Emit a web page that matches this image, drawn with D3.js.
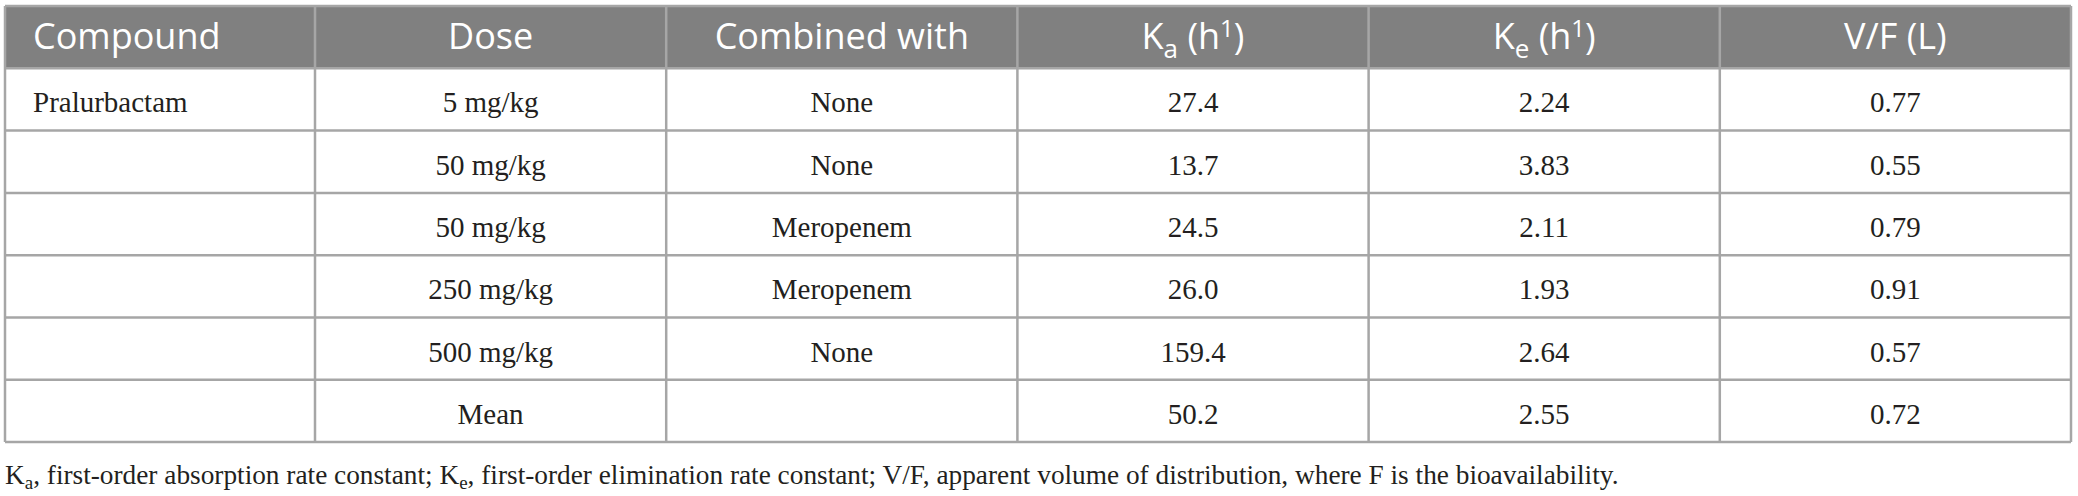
<!DOCTYPE html>
<html>
<head>
<meta charset="utf-8">
<script src="https://cdn.jsdelivr.net/npm/d3@7"></script>
<style>
  body { margin: 0; background: #fff; }
  svg { display: block; }
</style>
</head>
<body>
<svg id="tbl" width="2078" height="496"></svg>
<script>
// table content
var headers = ["Compound", "Dose", "Combined with", "Ka", "Ke", "V/F (L)"];
var compounds = ["Pralurbactam", "", "", "", "", ""];
var doses = ["5 mg/kg", "50 mg/kg", "50 mg/kg", "250 mg/kg", "500 mg/kg", "Mean"];
var combinedWith = ["None", "None", "Meropenem", "Meropenem", "None", ""];
var ka = [27.4, 13.7, 24.5, 26.0, 159.4, 50.2];
var ke = [2.24, 3.83, 2.11, 1.93, 2.64, 2.55];
var vf = [0.77, 0.55, 0.79, 0.91, 0.57, 0.72];

var svg = d3.select("#tbl");

var tLeft = 5, tRight = 2071, tTop = 6, rowH = 62.3;
var firstW = 310;
var gridColor = "#a6a6a6";
var serif = "'Liberation Serif', 'Times New Roman', serif";
var sans = "'Open Sans', 'Noto Sans', sans-serif";

// column edges: first column narrower, the rest equal
var colX = d3.scaleLinear().domain([1, 6]).range([tLeft + firstW, tRight]);
var edges = [tLeft].concat(d3.range(1, 7).map(function(i) { return colX(i); }));

var rowY = d3.scaleLinear().domain([0, 7]).range([tTop, tTop + rowH * 7]);

var rows = d3.range(doses.length).map(function(i) {
    return [compounds[i], doses[i], combinedWith[i], ka[i].toFixed(1), ke[i].toFixed(2), vf[i].toFixed(2)];
});

// header background
svg.append("rect")
    .attr("x", tLeft)
    .attr("y", rowY(0))
    .attr("width", tRight - tLeft)
    .attr("height", rowY(1) - rowY(0))
    .style("fill", "#808080");

// header text
var head = svg.append("g").attr("class", "header");
headers.forEach(function(h, j) {
    var cx = j == 0 ? edges[0] + 28 : (edges[j] + edges[j + 1]) / 2;
    var t = head.append("text")
        .attr("x", cx)
        .attr("y", (rowY(0) + rowY(1)) / 2 + 12)
        .attr("text-anchor", j == 0 ? "start" : "middle")
        .style("font-family", sans)
        .style("font-size", "36px")
        .style("fill", "#fff");
    if (h == "Ka" || h == "Ke") {
        t.append("tspan").text("K");
        t.append("tspan").text(h.charAt(1)).attr("dy", 9).style("font-size", "26px");
        t.append("tspan").text(" (h").attr("dy", -9);
        t.append("tspan").text("1").attr("dy", -12).style("font-size", "24px");
        t.append("tspan").text(")").attr("dy", 12);
    } else {
        t.text(h);
    }
});

// body text
var body = svg.append("g").attr("class", "body");
rows.forEach(function(r, i) {
    r.forEach(function(v, j) {
        if (v === "") return;
        body.append("text")
            .attr("x", j == 0 ? edges[0] + 28 : (edges[j] + edges[j + 1]) / 2)
            .attr("y", (rowY(i + 1) + rowY(i + 2)) / 2 + 13)
            .attr("text-anchor", j == 0 ? "start" : "middle")
            .style("font-family", serif)
            .style("font-size", "29px")
            .style("fill", "#231f20")
            .text(v);
    });
});

// grid lines
var grid = svg.append("g").attr("class", "grid")
    .style("stroke", gridColor)
    .style("stroke-width", 2.5);

d3.range(0, 8).forEach(function(k) {
    grid.append("line")
        .attr("x1", tLeft).attr("x2", tRight)
        .attr("y1", rowY(k)).attr("y2", rowY(k));
});
edges.forEach(function(x, j) {
    grid.append("line")
        .attr("x1", x).attr("x2", x)
        .attr("y1", rowY(0)).attr("y2", rowY(7));
});

// footnote
var note = svg.append("text")
    .attr("x", tLeft)
    .attr("y", 484)
    .style("font-family", serif)
    .style("font-size", "27.3px")
    .style("fill", "#231f20");
note.append("tspan").text("K");
note.append("tspan").text("a").attr("dy", 5).style("font-size", "19px");
note.append("tspan").text(", first-order absorption rate constant; K").attr("dy", -5);
note.append("tspan").text("e").attr("dy", 5).style("font-size", "19px");
note.append("tspan").text(", first-order elimination rate constant; V/F, apparent volume of distribution, where F is the bioavailability.").attr("dy", -5);
</script>
</body>
</html>
